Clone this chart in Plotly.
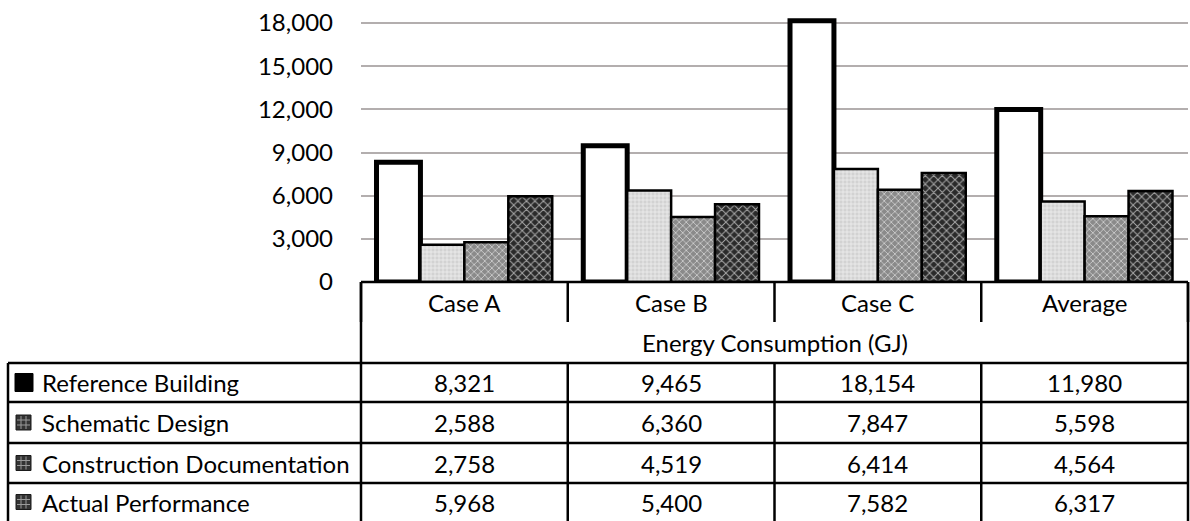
import plotly.graph_objects as go

# Energy consumption (GJ) per case, by design stage
cases = ["Case A", "Case B", "Case C", "Average"]
series_names = ["Reference Building", "Schematic Design",
                "Construction Documentation", "Actual Performance"]
reference = [8321, 9465, 18154, 11980]
schematic = [2588, 6360, 7847, 5598]
construction = [2758, 4519, 6414, 4564]
actual = [5968, 5400, 7582, 6317]
y_ticks = [0, 3000, 6000, 9000, 12000, 15000, 18000]
table_title = "Energy Consumption (GJ)"

W, H = 1190, 521
PLOT_L, PLOT_R = 361, 1188
PLOT_T, PLOT_B = 10, 282
PX_PER_UNIT = 259 / 18000
Y_MAX = (PLOT_B - PLOT_T) / PX_PER_UNIT

FONT = "Lato, 'Open Sans', sans-serif"
FS = 24


def px(x):
    return (x - PLOT_L) / (PLOT_R - PLOT_L)


def py(y):
    return (PLOT_B - y) / (PLOT_B - PLOT_T)


styles = [
    dict(color="white", line=dict(color="black", width=5)),
    dict(color="#d9d9d9", line=dict(color="black", width=2.5),
         pattern=dict(shape="+", bgcolor="#d2d2d2", fgcolor="#f2f2f2",
                      size=4, solidity=0.3, fillmode="replace")),
    dict(color="#8f8f8f", line=dict(color="black", width=2.5),
         pattern=dict(shape="x", bgcolor="#8a8a8a", fgcolor="#d0d0d0",
                      size=5, solidity=0.3, fillmode="replace")),
    dict(color="#333333", line=dict(color="black", width=2.5),
         pattern=dict(shape="x", bgcolor="#2a2a2a", fgcolor="#a8a8a8",
                      size=6, solidity=0.3, fillmode="replace")),
]

fig = go.Figure()
for name, vals, st in zip(series_names,
                          [reference, schematic, construction, actual],
                          styles):
    fig.add_trace(go.Bar(x=cases, y=vals, name=name, marker=st,
                         showlegend=False, hoverinfo="skip"))

shapes = []
annotations = []
LINE = dict(color="black", width=2.5)


def hline(y, x0, x1):
    shapes.append(dict(type="line", xref="paper", yref="paper",
                       x0=px(x0), x1=px(x1), y0=py(y), y1=py(y), line=LINE))


def vline(x, y0, y1):
    shapes.append(dict(type="line", xref="paper", yref="paper",
                       x0=px(x), x1=px(x), y0=py(y0), y1=py(y1), line=LINE))


def text(x, y, s, anchor="center"):
    annotations.append(dict(xref="paper", yref="paper", x=px(x), y=py(y),
                            text=s, showarrow=False, xanchor=anchor,
                            yanchor="middle",
                            font=dict(family=FONT, size=FS, color="black")))


col_w = (PLOT_R - PLOT_L) / len(cases)
col_edges = [PLOT_L + i * col_w for i in range(len(cases) + 1)]
row_lines = [363, 402, 443, 483]
row_bottom = H + 2

# table frame
hline(PLOT_B, PLOT_L, PLOT_R)
for y in row_lines:
    hline(y, 8, PLOT_R)
for x in col_edges:
    vline(x, PLOT_B, 322)
vline(PLOT_L, PLOT_B, row_bottom)
vline(PLOT_R, PLOT_B, row_bottom)
vline(8, row_lines[0], row_bottom)
for x in col_edges[1:-1]:
    vline(x, row_lines[0], row_bottom)

# header rows
for i, c in enumerate(cases):
    text(col_edges[i] + col_w / 2, 302, c)
text((PLOT_L + PLOT_R) / 2, 342, table_title)

# data rows
row_centers = [382.5, 422.5, 463, 502]
for r, (name, vals) in enumerate(zip(series_names,
                                     [reference, schematic, construction, actual])):
    yc = row_centers[r]
    text(40, yc, name, anchor="left")
    for i, v in enumerate(vals):
        text(col_edges[i] + col_w / 2, yc, f"{v:,}")

# legend keys
for r, yc in enumerate(row_centers):
    if r == 0:
        x0, x1, y0, y1 = 15, 33, yc - 9, yc + 9
        shapes.append(dict(type="rect", xref="paper", yref="paper",
                           x0=px(x0), x1=px(x1), y0=py(y1), y1=py(y0),
                           fillcolor="black", line=dict(color="black", width=1)))
    else:
        x0, x1, y0, y1 = 16, 31, yc - 7.5, yc + 7.5
        shapes.append(dict(type="rect", xref="paper", yref="paper",
                           x0=px(x0), x1=px(x1), y0=py(y1), y1=py(y0),
                           fillcolor="#333333", line=dict(color="#1a1a1a", width=1)))
        for k in (1, 2):
            gx = x0 + k * (x1 - x0) / 3
            gy = y0 + k * (y1 - y0) / 3
            shapes.append(dict(type="line", xref="paper", yref="paper",
                               x0=px(gx), x1=px(gx), y0=py(y0 + 1), y1=py(y1 - 1),
                               line=dict(color="#9a9a9a", width=1)))
            shapes.append(dict(type="line", xref="paper", yref="paper",
                               x0=px(x0 + 1), x1=px(x1 - 1), y0=py(gy), y1=py(gy),
                               line=dict(color="#9a9a9a", width=1)))

fig.update_layout(
    width=W, height=H,
    margin=dict(l=PLOT_L, r=W - PLOT_R, t=PLOT_T, b=H - PLOT_B, pad=0),
    paper_bgcolor="white", plot_bgcolor="white",
    barmode="group", bargap=0.15, bargroupgap=0,
    shapes=shapes, annotations=annotations,
    font=dict(family=FONT, size=FS, color="black"),
    xaxis=dict(showticklabels=False, showgrid=False, zeroline=False,
               showline=False, ticks=""),
    yaxis=dict(range=[0, Y_MAX], tickvals=y_ticks,
               ticktext=[f"{v:,}" for v in y_ticks],
               showgrid=True, gridcolor="#b3aeae", gridwidth=2,
               zeroline=False, showline=False, ticks="",
               ticklabelstandoff=27,
               tickfont=dict(family=FONT, size=FS, color="black")),
)

fig.write_html("out.html")
